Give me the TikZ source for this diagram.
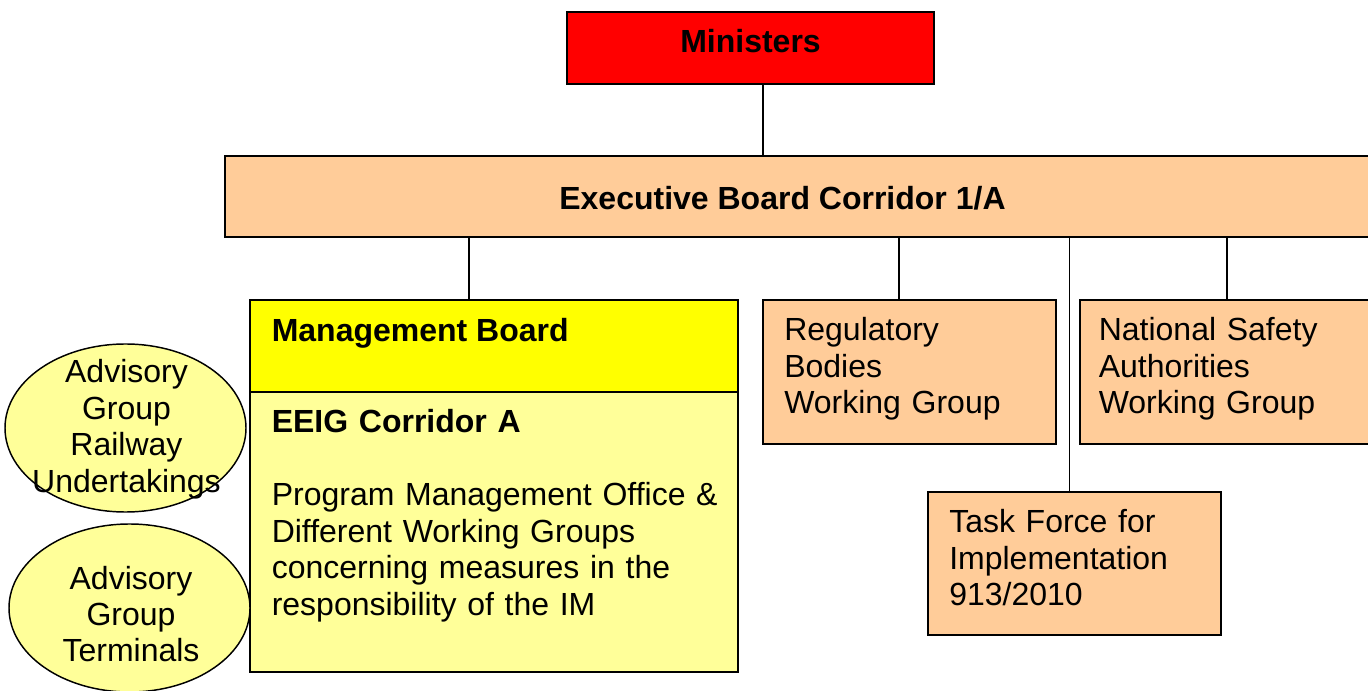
\documentclass[tikz,border=0pt]{standalone}
\usepackage{fontspec}
\setmainfont{Liberation Sans}
\usetikzlibrary{shapes.geometric}
\definecolor{ministerred}{HTML}{FF0000}
\definecolor{peach}{HTML}{FFCC99}
\definecolor{mgmtyellow}{HTML}{FFFF00}
\definecolor{paleyellow}{HTML}{FFFF99}
\tikzset{
  boxshape/.style={draw=black, line width=1.2pt, rectangle, inner sep=0pt},
  ovalshape/.style={draw=black, line width=1.1pt, ellipse, inner sep=0pt, fill=paleyellow},
  bigtext/.style={inner sep=0pt, font=\fontsize{24}{27.375}\selectfont},
  lefttext/.style={bigtext, align=left, anchor=base west},
  conn/.style={draw=black, line width=1pt}
}
\begin{document}
\begin{tikzpicture}[x=0.75pt,y=-0.75pt]
\clip (0,0) rectangle (1368,691);
\fill[white] (0,0) rectangle (1368,691);
% boxes
\node[boxshape, fill=ministerred, minimum width=275.25pt, minimum height=54pt] (ministers) at (750.5,48) {};
\node[boxshape, fill=peach, minimum width=862.5pt, minimum height=60.75pt] (exec) at (800,196.5) {};
\node[boxshape, fill=mgmtyellow, minimum width=366pt, minimum height=69pt] (mgmt) at (494,346) {};
\node[boxshape, fill=paleyellow, minimum width=366pt, minimum height=210pt] (eeig) at (494,532) {};
\node[boxshape, fill=peach, minimum width=219.75pt, minimum height=108pt] (reg) at (909.5,372) {};
\node[boxshape, fill=peach, minimum width=221.25pt, minimum height=108pt] (nsa) at (1227.5,372) {};
\node[boxshape, fill=peach, minimum width=219.75pt, minimum height=107.25pt] (task) at (1074.5,563.5) {};
\node[ovalshape, minimum width=180.75pt, minimum height=126pt] (agru) at (125.5,428) {};
\node[ovalshape, minimum width=180.75pt, minimum height=126pt] (agt) at (129.5,608) {};
% connector taps
\coordinate (tapmin) at (763,0);
\coordinate (tapmgmt) at (469,0);
\coordinate (tapreg) at (899,0);
\coordinate (taptask) at (1069.5,0);
\coordinate (tapnsa) at (1227,0);
\draw[conn] (ministers.south -| tapmin) -- (exec.north -| tapmin);
\draw[conn] (exec.south -| tapmgmt) -- (mgmt.north -| tapmgmt);
\draw[conn] (exec.south -| tapreg) -- (reg.north -| tapreg);
\draw[conn] (exec.south -| taptask) -- (task.north -| taptask);
\draw[conn] (exec.south -| tapnsa) -- (nsa.north -| tapnsa);
% texts
\node[bigtext, anchor=base, font=\fontsize{24}{27.375}\selectfont\bfseries] (tmin) at (750.5,53) {Ministers};
\node[bigtext, anchor=base, font=\fontsize{24}{27.375}\selectfont\bfseries] (texec) at (782.5,210) {Executive Board Corridor 1/A};
\node[lefttext, font=\fontsize{24}{27.375}\selectfont\bfseries] (tmgmt) at (271.5,342) {Management Board};
\node[lefttext, text width=360pt] (teeig) at (271.5,432.7) {{\bfseries EEIG Corridor A}\\[27.375pt]Program Management Office \&\\Different Working Groups\\concerning measures in the\\responsibility of the IM};
\node[lefttext, text width=210pt] (treg) at (784,341) {Regulatory\\Bodies\\Working Group};
\node[lefttext, text width=210pt] (tnsa) at (1098.5,341) {National Safety\\Authorities\\Working Group};
\node[lefttext, text width=210pt] (ttask) at (949,532.5) {Task Force for\\Implementation\\913/2010};
\node[bigtext, align=center, text width=180pt, anchor=base] (tagru) at (126.5,382.7) {Advisory\\Group\\Railway\\Undertakings};
\node[bigtext, align=center, text width=180pt, anchor=base] (tagt) at (131,589) {Advisory\\Group\\Terminals};
\end{tikzpicture}
\end{document}
